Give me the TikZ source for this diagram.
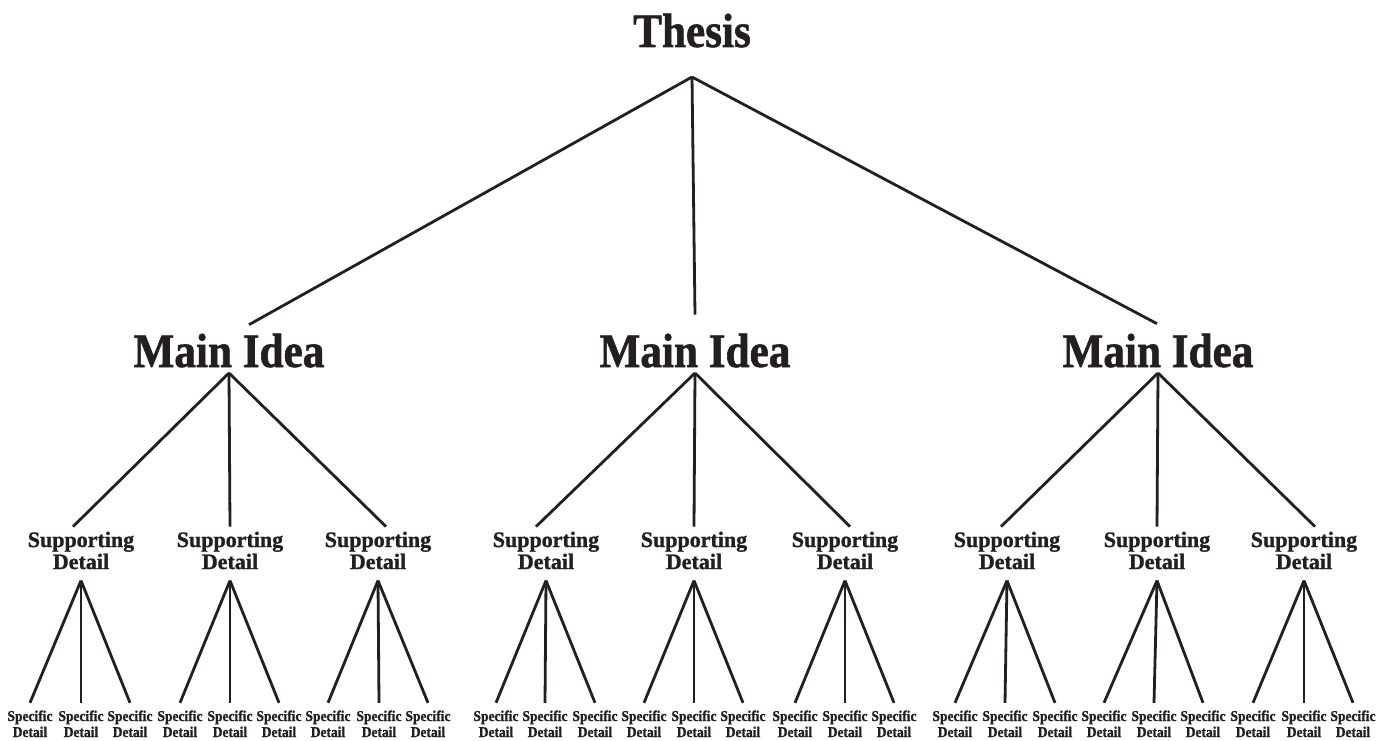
\documentclass[tikz,border=0pt]{standalone}
\usepackage{fontspec}
\setmainfont{Liberation Serif}
\newfontfamily\heavyfont[FakeBold=1.2]{Liberation Serif Bold}
\newfontfamily\narrowfont[FakeBold=1.2, FakeStretch=0.9]{Liberation Serif Bold}
\definecolor{ink}{RGB}{35,31,32}
\tikzstyle{thesis} = [font=\narrowfont\fontsize{48}{48}\selectfont,
inner sep=0pt, outer ysep=30pt, text depth=0pt, anchor=base]
\tikzstyle{mainidea} = [font=\narrowfont\fontsize{48}{48}\selectfont,
inner sep=0pt, outer ysep=6pt, text depth=0pt, anchor=base]
\tikzstyle{support} = [font=\heavyfont\fontsize{22}{22}\selectfont,
align=center, inner sep=0pt, outer ysep=5pt]
\tikzstyle{specific} = [font=\narrowfont\fontsize{15}{16}\selectfont,
align=center, inner sep=0pt, outer ysep=7pt]
\tikzstyle{branch} = [draw=ink, line width=2.8pt]

\begin{document}
\begin{tikzpicture}[
  x=1pt, y=-1pt, % pixel grid, y runs down
  text=ink,
]
  \useasboundingbox (0,0) rectangle (1389,741);

  \node[thesis] (th) at (692,47) {Thesis};

  \node[mainidea] (m1) at (229,367)  {Main Idea};
  \node[mainidea] (m2) at (695,367)  {Main Idea};
  \node[mainidea] (m3) at (1158,367) {Main Idea};

  \node[support] (s11) at (81,553.6)   {\strut Supporting\\\strut Detail};
  \node[support] (s12) at (230,553.6)  {\strut Supporting\\\strut Detail};
  \node[support] (s13) at (378,553.6)  {\strut Supporting\\\strut Detail};
  \node[support] (s21) at (546,553.6)  {\strut Supporting\\\strut Detail};
  \node[support] (s22) at (694,553.6)  {\strut Supporting\\\strut Detail};
  \node[support] (s23) at (845,553.6)  {\strut Supporting\\\strut Detail};
  \node[support] (s31) at (1007,553.6) {\strut Supporting\\\strut Detail};
  \node[support] (s32) at (1157,553.6) {\strut Supporting\\\strut Detail};
  \node[support] (s33) at (1304,553.6) {\strut Supporting\\\strut Detail};

  % specific details, three under each supporting detail
  \node[specific] (d111) at (30,725.8)   {\strut Specific\\\strut Detail};
  \node[specific] (d112) at (81,725.8)   {\strut Specific\\\strut Detail};
  \node[specific] (d113) at (130,725.8)  {\strut Specific\\\strut Detail};
  \node[specific] (d121) at (180,725.8)  {\strut Specific\\\strut Detail};
  \node[specific] (d122) at (230,725.8)  {\strut Specific\\\strut Detail};
  \node[specific] (d123) at (279,725.8)  {\strut Specific\\\strut Detail};
  \node[specific] (d131) at (328,725.8)  {\strut Specific\\\strut Detail};
  \node[specific] (d132) at (379,725.8)  {\strut Specific\\\strut Detail};
  \node[specific] (d133) at (428,725.8)  {\strut Specific\\\strut Detail};

  \node[specific] (d211) at (496,725.8)  {\strut Specific\\\strut Detail};
  \node[specific] (d212) at (545,725.8)  {\strut Specific\\\strut Detail};
  \node[specific] (d213) at (595,725.8)  {\strut Specific\\\strut Detail};
  \node[specific] (d221) at (644,725.8)  {\strut Specific\\\strut Detail};
  \node[specific] (d222) at (694,725.8)  {\strut Specific\\\strut Detail};
  \node[specific] (d223) at (743,725.8)  {\strut Specific\\\strut Detail};
  \node[specific] (d231) at (795,725.8)  {\strut Specific\\\strut Detail};
  \node[specific] (d232) at (845,725.8)  {\strut Specific\\\strut Detail};
  \node[specific] (d233) at (894,725.8)  {\strut Specific\\\strut Detail};

  \node[specific] (d311) at (955,725.8)  {\strut Specific\\\strut Detail};
  \node[specific] (d312) at (1005,725.8) {\strut Specific\\\strut Detail};
  \node[specific] (d313) at (1055,725.8) {\strut Specific\\\strut Detail};
  \node[specific] (d321) at (1104,725.8) {\strut Specific\\\strut Detail};
  \node[specific] (d322) at (1154,725.8) {\strut Specific\\\strut Detail};
  \node[specific] (d323) at (1203,725.8) {\strut Specific\\\strut Detail};
  \node[specific] (d331) at (1253,725.8) {\strut Specific\\\strut Detail};
  \node[specific] (d332) at (1304,725.8) {\strut Specific\\\strut Detail};
  \node[specific] (d333) at (1353,725.8) {\strut Specific\\\strut Detail};

  \draw[branch] (th.south) -- ([xshift=20pt,yshift=3pt]m1.north);
  \draw[branch] (th.south) -- ([yshift=13pt]m2.north);
  \draw[branch] (th.south) -- ([xshift=-1pt,yshift=4pt]m3.north);

  \draw[branch] (m1.south) -- ([xshift=-8pt]s11.north);
  \draw[branch] (m1.south) -- (s12.north);
  \draw[branch] (m1.south) -- ([xshift=8pt]s13.north);
  \draw[branch] (m2.south) -- ([xshift=-10pt]s21.north);
  \draw[branch] (m2.south) -- (s22.north);
  \draw[branch] (m2.south) -- ([xshift=5pt]s23.north);
  \draw[branch] (m3.south) -- ([xshift=-6pt]s31.north);
  \draw[branch] (m3.south) -- (s32.north);
  \draw[branch] (m3.south) -- ([xshift=11pt]s33.north);

  \draw[branch] (s11.south) -- (d111.north);
  \draw[branch] (s11.south) -- (d112.north);
  \draw[branch] (s11.south) -- (d113.north);
  \draw[branch] (s12.south) -- (d121.north);
  \draw[branch] (s12.south) -- (d122.north);
  \draw[branch] (s12.south) -- (d123.north);
  \draw[branch] (s13.south) -- (d131.north);
  \draw[branch] (s13.south) -- (d132.north);
  \draw[branch] (s13.south) -- (d133.north);

  \draw[branch] (s21.south) -- (d211.north);
  \draw[branch] (s21.south) -- (d212.north);
  \draw[branch] (s21.south) -- (d213.north);
  \draw[branch] (s22.south) -- (d221.north);
  \draw[branch] (s22.south) -- (d222.north);
  \draw[branch] (s22.south) -- (d223.north);
  \draw[branch] (s23.south) -- (d231.north);
  \draw[branch] (s23.south) -- (d232.north);
  \draw[branch] (s23.south) -- (d233.north);

  \draw[branch] (s31.south) -- (d311.north);
  \draw[branch] (s31.south) -- (d312.north);
  \draw[branch] (s31.south) -- (d313.north);
  \draw[branch] (s32.south) -- (d321.north);
  \draw[branch] (s32.south) -- (d322.north);
  \draw[branch] (s32.south) -- (d323.north);
  \draw[branch] (s33.south) -- (d331.north);
  \draw[branch] (s33.south) -- (d332.north);
  \draw[branch] (s33.south) -- (d333.north);
\end{tikzpicture}
\end{document}
